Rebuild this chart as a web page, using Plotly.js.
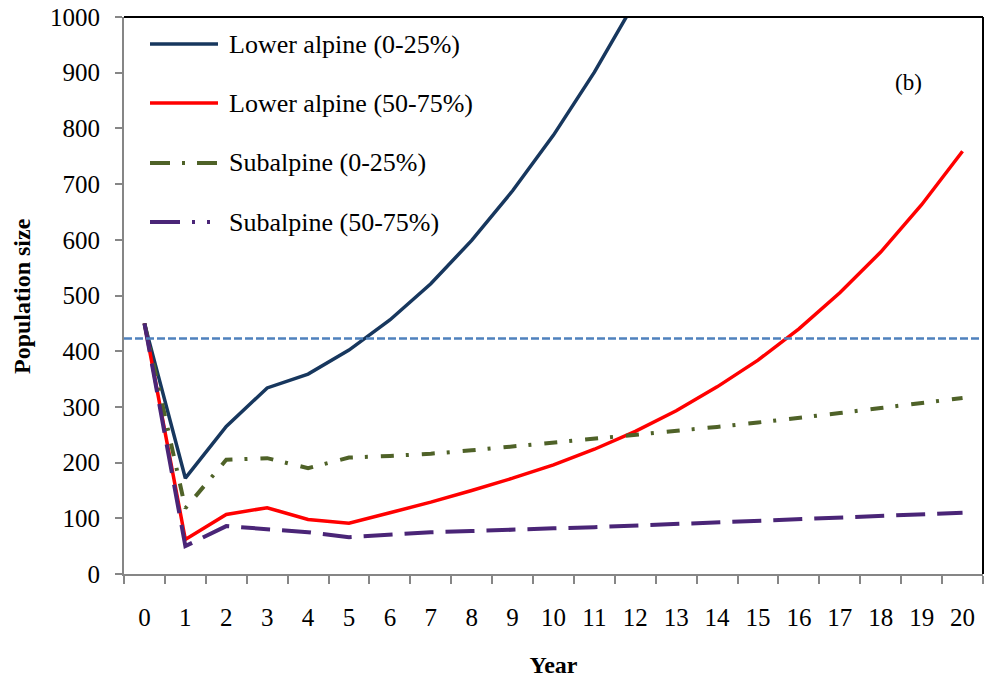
<!DOCTYPE html>
<html>
<head>
<meta charset="utf-8">
<script src="https://cdn.plot.ly/plotly-3.0.1.min.js"></script>
<style>
  html, body { margin: 0; padding: 0; background: #fff; }
  #chart { width: 985px; height: 682px; }
</style>
</head>
<body>
<div id="chart"></div>
<script>
// Years of the projection (category axis)
const years = ["0","1","2","3","4","5","6","7","8","9","10","11","12","13","14","15","16","17","18","19","20"];

// Projected population size per scenario
const lowerAlpine0to25  = [450, 172, 265, 334, 359, 402, 456, 521, 599, 688, 788, 901, 1028];
const lowerAlpine50to75 = [450, 62, 107, 119, 98, 91, 110, 129, 150, 172, 196, 224, 256, 293, 336, 384, 440, 505, 578, 663, 759];
const subalpine0to25    = [450, 118, 205, 208, 190, 209, 212, 216, 222, 229, 235, 242, 249, 256, 264, 272, 280, 289, 298, 307, 316];
const subalpine50to75   = [450, 50, 86, 80, 75, 66, 71, 75, 77, 80, 82, 84, 87, 89, 92, 95, 98, 101, 104, 107, 110];

// Reference population level (horizontal dashed line)
const thresholdLevel = 423;

const seriesNames = ["Lower alpine (0-25%)", "Lower alpine (50-75%)", "Subalpine (0-25%)", "Subalpine (50-75%)"];

const FONT = "Liberation Serif";

const styles = [
  {color: "#17375E", width: 3.5, dash: "solid"},
  {color: "#FF0000", width: 3.5, dash: "solid"},
  {color: "#4F6228", width: 4,   dash: "13px,12px,3px,13px"},
  {color: "#4A2577", width: 4,   dash: "29px,12px"}
];

const seriesValues = [lowerAlpine0to25, lowerAlpine50to75, subalpine0to25, subalpine50to75];

const traces = seriesValues.map((vals, i) => ({
  type: "scatter",
  mode: "lines",
  name: seriesNames[i],
  x: years.slice(0, vals.length),
  y: vals,
  line: {color: styles[i].color, width: styles[i].width, dash: styles[i].dash},
  showlegend: false,
  hoverinfo: "x+y+name"
}));

// Threshold line drawn across all years
traces.push({
  type: "scatter",
  mode: "lines",
  x: [-0.5, 20.5],
  y: [thresholdLevel, thresholdLevel],
  xaxis: "x2",
  line: {color: "#4F81BD", width: 2.5, dash: "8px,3px"},
  showlegend: false,
  hoverinfo: "skip"
});

// Hand-built legend: sample line + label per series
const legendRowsPx = [44, 103, 163, 222];
const plotTop = 17, plotBottom = 574, plotLeft = 124, plotRight = 983;
const ph = plotBottom - plotTop, pw = plotRight - plotLeft;
const px2x = px => (px - plotLeft) / pw;
const px2y = py => (plotBottom - py) / ph;

const shapes = [
  // black top and right frame
  {type: "line", xref: "paper", yref: "paper", x0: 0, x1: 1, y0: 1, y1: 1, line: {color: "#000", width: 2}},
  {type: "line", xref: "paper", yref: "paper", x0: 1, x1: 1, y0: 0, y1: 1, line: {color: "#000", width: 2}}
];
const annotations = [
  {xref: "paper", yref: "paper", x: px2x(908), y: px2y(82), text: "(b)", showarrow: false,
   font: {family: FONT, size: 23, color: "#000"}, xanchor: "center", yanchor: "middle"},
  // vertical axis title
  {xref: "paper", yref: "paper", x: px2x(22), y: px2y(296), text: "<b>Population size</b>",
   textangle: -90, showarrow: false, xanchor: "center", yanchor: "middle",
   font: {family: FONT, size: 24, color: "#000"}}
];

const legendDash = ["solid", "solid", "20px,12px,3px,12px", "30px,12px,3px,12px,3px,12px"];
seriesNames.forEach((name, i) => {
  const yy = px2y(legendRowsPx[i]);
  shapes.push({type: "line", xref: "paper", yref: "paper",
    x0: px2x(150), x1: px2x(218), y0: yy, y1: yy,
    line: {color: styles[i].color, width: styles[i].width, dash: legendDash[i]}});
  annotations.push({xref: "paper", yref: "paper", x: px2x(227), y: yy, text: name,
    showarrow: false, xanchor: "left", yanchor: "middle",
    font: {family: FONT, size: 26, color: "#000"}});
});

const layout = {
  width: 985,
  height: 682,
  margin: {l: plotLeft, r: 985 - plotRight, t: plotTop, b: 682 - plotBottom},
  paper_bgcolor: "#fff",
  plot_bgcolor: "#fff",
  font: {family: FONT, size: 24, color: "#000"},
  showlegend: false,
  xaxis: {
    type: "category",
    categoryorder: "array",
    categoryarray: years,
    range: [-0.5, 20.5],
    tickson: "boundaries",
    ticks: "outside",
    ticklen: 8,
    tickwidth: 2,
    tickcolor: "#868686",
    ticklabelstandoff: 20,
    showline: true,
    linecolor: "#868686",
    linewidth: 2,
    showgrid: false,
    zeroline: false,
    tickfont: {family: FONT, size: 25, color: "#000"},
    title: {text: "<b>Year</b>", font: {family: FONT, size: 24, color: "#000"}, standoff: 26}
  },
  xaxis2: {
    overlaying: "x",
    range: [-0.5, 20.5],
    visible: false
  },
  yaxis: {
    range: [0, 1000],
    dtick: 100,
    ticks: "outside",
    ticklen: 7,
    tickwidth: 2,
    tickcolor: "#868686",
    ticklabelstandoff: 10,
    showline: true,
    linecolor: "#868686",
    linewidth: 2,
    showgrid: false,
    zeroline: false,
    tickfont: {family: FONT, size: 25, color: "#000"}
  },
  shapes: shapes,
  annotations: annotations
};

Plotly.newPlot("chart", traces, layout, {displayModeBar: false, staticPlot: true});
</script>
</body>
</html>
